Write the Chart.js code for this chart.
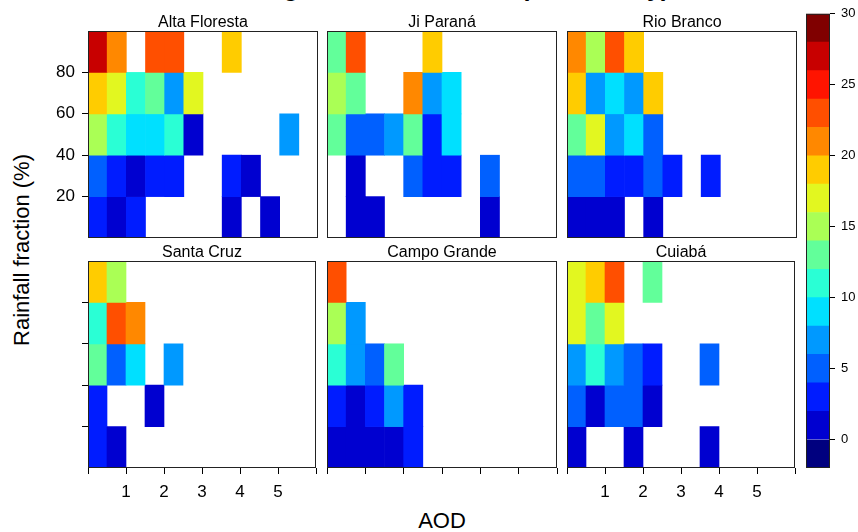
<!DOCTYPE html>
<html>
<head>
<meta charset="utf-8">
<script src="https://cdn.jsdelivr.net/npm/chart.js@4"></script>
<style>
  body { margin: 0; background: #fff; }
  #wrap { position: relative; width: 858px; height: 532px; overflow: hidden; font-family: "Liberation Sans", Arial, sans-serif; }
  canvas { position: absolute; }
  .lbl { position: absolute; white-space: nowrap; color: #000; text-align: center; }
  #main { left: 0; width: 890px; top: -25px; font-size: 25px; line-height: 25px; font-weight: bold; }
  #xlab { left: 342px; width: 200px; top: 510px; font-size: 22px; line-height: 22px; }
  #ylab { left: -128px; width: 300px; top: 239px; font-size: 22px; line-height: 22px; transform: rotate(-90deg); }
</style>
</head>
<body>
<div id="wrap">
  <div class="lbl" id="main">Histogram of rain events (counts/day)</div>
  <div class="lbl" id="xlab">AOD</div>
  <div class="lbl" id="ylab">Rainfall fraction (%)</div>
</div>
<script>
// AOD bins (columns) and rainfall fraction bins (rows, top to bottom)
const aodBins = ['0-0.5', '0.5-1', '1-1.5', '1.5-2', '2-2.5', '2.5-3', '3-3.5', '3.5-4', '4-4.5', '4.5-5', '5-5.5', '5.5-6'];
const rainEdges = [100, 80, 60, 40, 20, 0];
const aodTicks = [0, 1, 2, 3, 4, 5, 6];
const rainTicks = [20, 40, 60, 80];

// colour key
const keyBreaks = [-2, 0, 2, 4, 6, 8, 10, 12, 14, 16, 18, 20, 22, 24, 26, 28, 30];
const keyColors = ['#00007F', '#0000D0', '#001CFF', '#0060FF', '#0099FF', '#00E0FF', '#2AFFD5', '#62FF9A',
                   '#AAFF55', '#E2F720', '#FFCC00', '#FF8800', '#FF4F00', '#FF1400', '#C80000', '#800000'];
const keyTicks = [0, 5, 10, 15, 20, 25, 30];

const stations = ['Alta Floresta', 'Ji Paraná', 'Rio Branco', 'Santa Cruz', 'Campo Grande', 'Cuiabá'];
const _ = null;

const altaFloresta = [
  [27, 21, _, 23, 23, _, _, 19, _, _, _, _],
  [19, 17, 11, 13, 7, 17, _, _, _, _, _, _],
  [15, 11, 9, 9, 11, 1, _, _, _, _, 7, _],
  [5, 3, 1, 3, 3, _, _, 3, 1, _, _, _],
  [3, 1, 3, _, _, _, _, 1, _, 1, _, _]
];
const jiParana = [
  [13, 23, _, _, _, 19, _, _, _, _, _, _],
  [15, 13, _, _, 21, 7, 9, _, _, _, _, _],
  [13, 5, 5, 7, 13, 3, 9, _, _, _, _, _],
  [_, 1, _, _, 5, 3, 3, _, 5, _, _, _],
  [_, 1, 1, _, _, _, _, _, 1, _, _, _]
];
const rioBranco = [
  [21, 15, 23, 19, _, _, _, _, _, _, _, _],
  [19, 7, 9, 7, 19, _, _, _, _, _, _, _],
  [13, 17, 7, 9, 5, _, _, _, _, _, _, _],
  [5, 5, 3, 3, 5, 3, _, 3, _, _, _, _],
  [1, 1, 1, _, 1, _, _, _, _, _, _, _]
];
const santaCruz = [
  [19, 15, _, _, _, _, _, _, _, _, _, _],
  [11, 23, 21, _, _, _, _, _, _, _, _, _],
  [13, 5, 9, _, 7, _, _, _, _, _, _, _],
  [3, _, _, 1, _, _, _, _, _, _, _, _],
  [3, 1, _, _, _, _, _, _, _, _, _, _]
];
const campoGrande = [
  [23, _, _, _, _, _, _, _, _, _, _, _],
  [15, 7, _, _, _, _, _, _, _, _, _, _],
  [11, 7, 5, 13, _, _, _, _, _, _, _, _],
  [3, 1, 3, 7, 3, _, _, _, _, _, _, _],
  [1, 1, 1, 1, 3, _, _, _, _, _, _, _]
];
const cuiaba = [
  [17, 19, 23, _, 13, _, _, _, _, _, _, _],
  [17, 13, 17, _, _, _, _, _, _, _, _, _],
  [7, 11, 7, 5, 3, _, _, 5, _, _, _, _],
  [5, 1, 5, 5, 1, _, _, _, _, _, _, _],
  [1, _, _, 1, _, _, _, 1, _, _, _, _]
];
const grids = [altaFloresta, jiParana, rioBranco, santaCruz, campoGrande, cuiaba];

// panel frame layout
const panelLeft = [88, 327, 567];
const panelTop = [31, 261];
const panelW = 230, panelH = 207;

Chart.defaults.font.family = '"Liberation Sans", Arial, sans-serif';
Chart.defaults.color = '#000';

function colorFor(v) {
  for (let k = 0; k < keyColors.length; k++) {
    if (v >= keyBreaks[k] && v < keyBreaks[k + 1]) return keyColors[k];
  }
  return keyColors[keyColors.length - 1];
}

const framePlugin = {
  id: 'frame',
  afterDatasetsDraw(chart) {
    const { ctx, chartArea: a } = chart;
    ctx.save();
    ctx.strokeStyle = '#222';
    ctx.lineWidth = 1;
    ctx.strokeRect(a.left + 0.5, a.top + 0.5, a.right - a.left - 1, a.bottom - a.top - 1);
    ctx.restore();
  }
};

function stripPlugin(name) {
  return {
    id: 'strip',
    afterDraw(chart) {
      const { ctx, chartArea: a } = chart;
      ctx.save();
      ctx.font = '16px "Liberation Sans", Arial, sans-serif';
      ctx.fillStyle = '#000';
      ctx.textAlign = 'center';
      ctx.textBaseline = 'alphabetic';
      ctx.fillText(name, (a.left + a.right) / 2, a.top - 4);
      ctx.restore();
    }
  };
}

function addCanvas(left, top, w, h) {
  const c = document.createElement('canvas');
  c.width = w; c.height = h;
  c.style.left = left + 'px'; c.style.top = top + 'px';
  c.style.width = w + 'px'; c.style.height = h + 'px';
  document.getElementById('wrap').appendChild(c);
  return c;
}

function makePanel(i) {
  const col = i % 3, row = Math.floor(i / 3);
  const grid = grids[i];
  const padTop = 31, padRight = 6, yW = 60, xH = 44;
  const canvas = addCanvas(panelLeft[col] - yW, panelTop[row] - padTop, panelW + yW + padRight, panelH + padTop + xH);

  const datasets = grid.map((vals, r) => ({
    data: vals.map(v => v == null ? null : [rainEdges[r + 1], rainEdges[r]]),
    backgroundColor: vals.map(v => v == null ? 'rgba(0,0,0,0)' : colorFor(v)),
    grouped: false,
    barPercentage: 1,
    categoryPercentage: 1,
    borderWidth: 0
  }));

  new Chart(canvas, {
    type: 'bar',
    data: { labels: aodBins, datasets: datasets },
    options: {
      responsive: false,
      animation: false,
      events: [],
      layout: { padding: { top: padTop, right: padRight, left: 0, bottom: 0 } },
      plugins: { legend: { display: false }, tooltip: { enabled: false } },
      scales: {
        x: { display: false },
        xt: {
          type: 'linear', position: 'bottom', min: 0, max: 6, offset: false,
          afterBuildTicks: s => { s.ticks = aodTicks.map(v => ({ value: v })); },
          afterFit: s => { s.height = xH; },
          grid: { display: row === 1, offset: false, drawOnChartArea: false, drawTicks: true, tickLength: 6, color: '#000' },
          border: { display: false },
          ticks: {
            display: row === 1 && col !== 1, padding: 8, maxRotation: 0,
            font: { size: 17 },
            callback: v => (v >= 1 && v <= 5) ? String(v) : ''
          }
        },
        y: {
          min: 0, max: 100,
          afterBuildTicks: s => { s.ticks = rainTicks.map(v => ({ value: v })); },
          afterFit: s => { s.width = yW; },
          grid: { display: col === 0, drawOnChartArea: false, drawTicks: true, tickLength: 6, color: '#000' },
          border: { display: false },
          ticks: { display: col === 0 && row === 0, padding: 7, font: { size: 17 } }
        }
      }
    },
    plugins: [framePlugin, stripPlugin(stations[i])]
  });
}

for (let i = 0; i < stations.length; i++) makePanel(i);

// colour key
const keyCanvas = addCanvas(790, 0, 68, 532);
new Chart(keyCanvas, {
  type: 'bar',
  data: {
    labels: ['key'],
    datasets: keyColors.map((c, k) => ({
      data: [[keyBreaks[k], keyBreaks[k + 1]]],
      backgroundColor: c,
      grouped: false,
      barPercentage: 1,
      categoryPercentage: 1,
      borderWidth: 0
    }))
  },
  options: {
    responsive: false,
    animation: false,
    events: [],
    layout: { padding: { top: 9, bottom: 64, left: 16, right: 0 } },
    plugins: { legend: { display: false }, tooltip: { enabled: false } },
    scales: {
      x: { display: false },
      y: {
        position: 'right', min: -2, max: 30,
        afterBuildTicks: s => { s.ticks = keyTicks.map(v => ({ value: v })); },
        afterFit: s => { s.width = 28; },
        grid: { drawOnChartArea: false, drawTicks: true, tickLength: 5, color: '#000' },
        border: { display: false },
        ticks: { padding: 6, font: { size: 13 } }
      }
    }
  },
  plugins: [framePlugin]
});
</script>
</body>
</html>
